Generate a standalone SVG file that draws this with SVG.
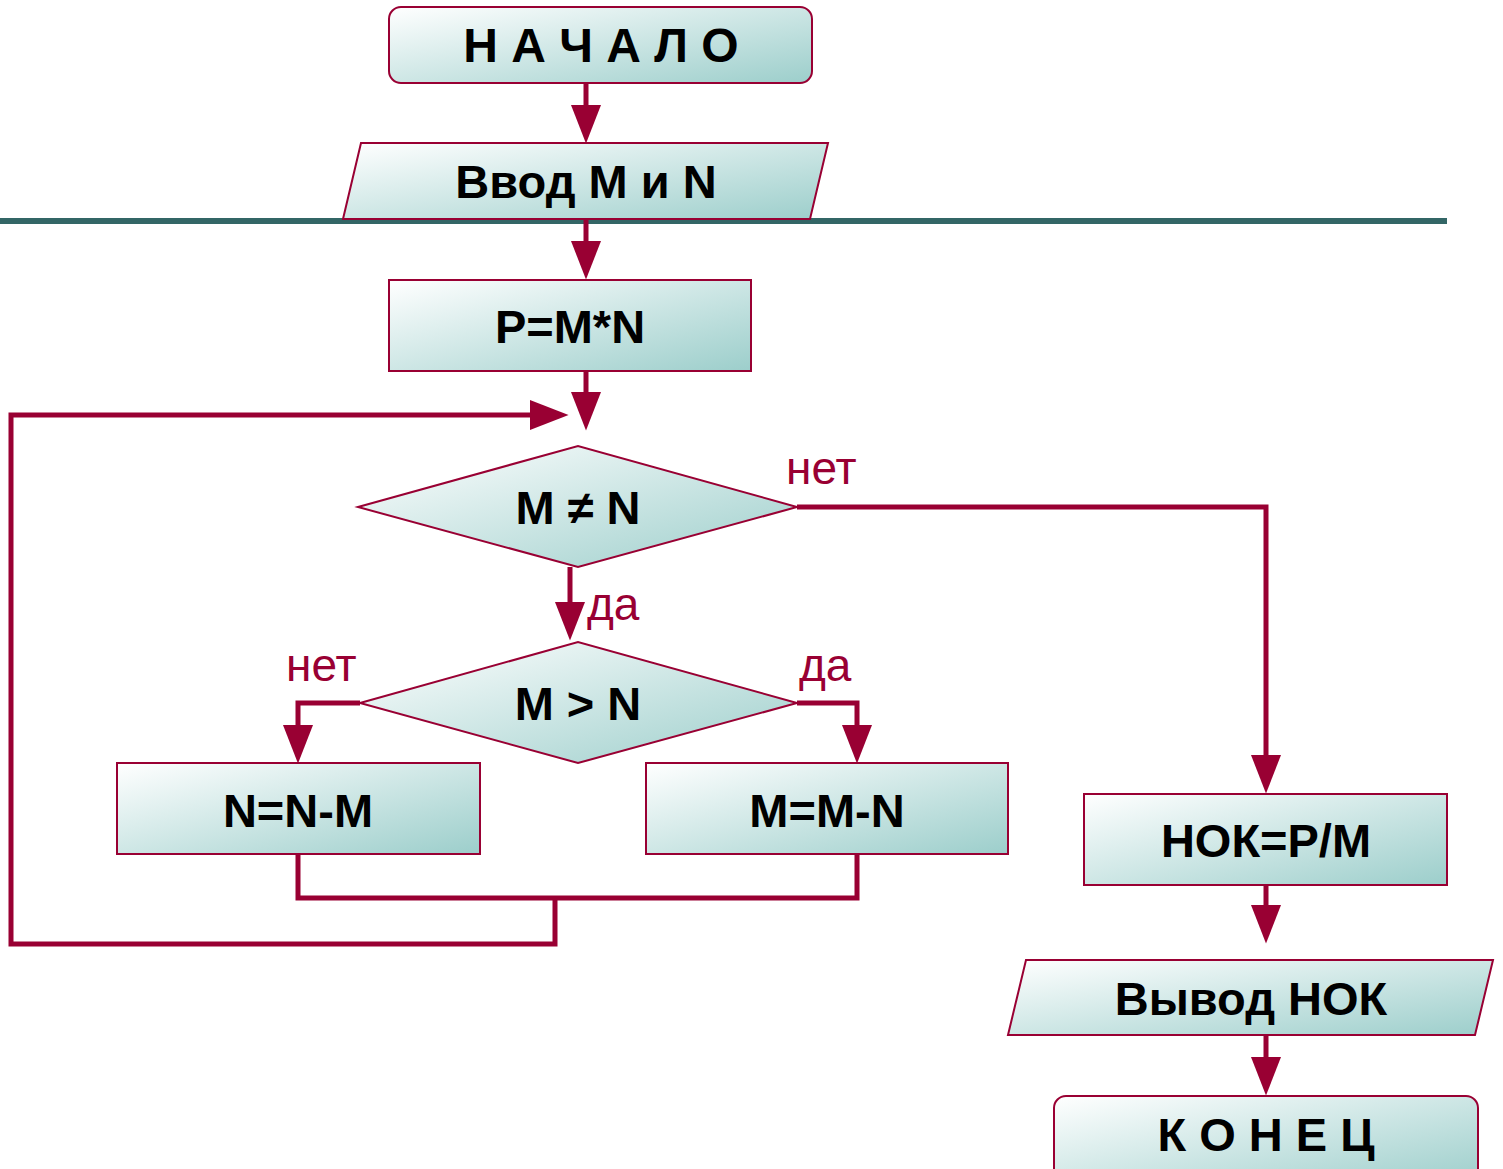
<svg xmlns="http://www.w3.org/2000/svg" width="1503" height="1169" viewBox="0 0 1503 1169">
  <defs>
    <linearGradient id="fill" x1="0" y1="0" x2="1" y2="1">
      <stop offset="0" stop-color="#FFFFFF"/>
      <stop offset="1" stop-color="#9CCECB"/>
    </linearGradient>
    <marker id="arrow" markerUnits="userSpaceOnUse" markerWidth="40" markerHeight="30" viewBox="0 0 36 28" refX="28" refY="14" orient="auto">
      <path d="M0,0 L36,14 L0,28 Z" fill="#990033"/>
    </marker>
    <style>
      .shape { fill: url(#fill); stroke: #990033; stroke-width: 2; }
      .t { font-family: "Liberation Sans", Arial, sans-serif; font-weight: bold; font-size: 47px; fill: #000; text-anchor: middle; }
      .sp { font-size: 48px; }
      .lbl { font-family: "Liberation Sans", Arial, sans-serif; font-size: 46px; fill: #990033; }
      .c { fill: none; stroke: #990033; stroke-width: 5; }
    </style>
  </defs>
  <rect width="1503" height="1169" fill="#FFFFFF"/>

  <!-- horizontal rule behind the input block -->
  <line x1="0" y1="221" x2="1447" y2="221" stroke="#336666" stroke-width="6"/>

  <g id="connectors">
    <path class="c" d="M586,83 V135" marker-end="url(#arrow)"/>
    <path class="c" d="M586,219 V271" marker-end="url(#arrow)"/>
    <path class="c" d="M586,371 V422" marker-end="url(#arrow)"/>
    <path class="c" d="M555,898 V944 H11 V415 H560" marker-end="url(#arrow)"/>
    <path class="c" d="M298,854 V898 H857 V854"/>
    <path class="c" d="M570,567 V632" marker-end="url(#arrow)"/>
    <path class="c" d="M797,507 H1266 V785" marker-end="url(#arrow)"/>
    <path class="c" d="M360,703 H298 V755" marker-end="url(#arrow)"/>
    <path class="c" d="M797,703 H857 V755" marker-end="url(#arrow)"/>
    <path class="c" d="M1266,885 V935" marker-end="url(#arrow)"/>
    <path class="c" d="M1266,1035 V1087" marker-end="url(#arrow)"/>
  </g>

  <g id="labels">
    <text class="lbl" x="786" y="484">нет</text>
    <text class="lbl" x="587" y="620">да</text>
    <text class="lbl" x="286" y="681">нет</text>
    <text class="lbl" x="799" y="681">да</text>
  </g>

  <g id="start">
    <rect class="shape" x="389" y="7" width="423" height="76" rx="12"/>
    <text class="t sp" x="601" y="62">Н А Ч А Л О</text>
  </g>

  <g id="input">
    <polygon class="shape" points="361,143 828,143 810,219 343,219"/>
    <text class="t" x="586" y="198">Ввод M и N</text>
  </g>

  <g id="product">
    <rect class="shape" x="389" y="280" width="362" height="91"/>
    <text class="t" x="570" y="343">P=M*N</text>
  </g>

  <g id="cond-ne">
    <polygon class="shape" points="358,507 578,446 797,507 578,567"/>
    <text class="t" x="578" y="524">M ≠ N</text>
  </g>

  <g id="cond-gt">
    <polygon class="shape" points="360,703 578,642 797,703 578,763"/>
    <text class="t" x="578" y="720">M &gt; N</text>
  </g>

  <g id="sub-n">
    <rect class="shape" x="117" y="763" width="363" height="91"/>
    <text class="t" x="298" y="827">N=N-M</text>
  </g>

  <g id="sub-m">
    <rect class="shape" x="646" y="763" width="362" height="91"/>
    <text class="t" x="827" y="827">M=M-N</text>
  </g>

  <g id="lcm">
    <rect class="shape" x="1084" y="794" width="363" height="91"/>
    <text class="t" x="1266" y="857">НОК=P/M</text>
  </g>

  <g id="output">
    <polygon class="shape" points="1026,960 1493,960 1475,1035 1008,1035"/>
    <text class="t" x="1251" y="1015">Вывод НОК</text>
  </g>

  <g id="end">
    <rect class="shape" x="1054" y="1096" width="424" height="90" rx="12"/>
    <text class="t" x="1266" y="1151">К О Н Е Ц</text>
  </g>
</svg>
